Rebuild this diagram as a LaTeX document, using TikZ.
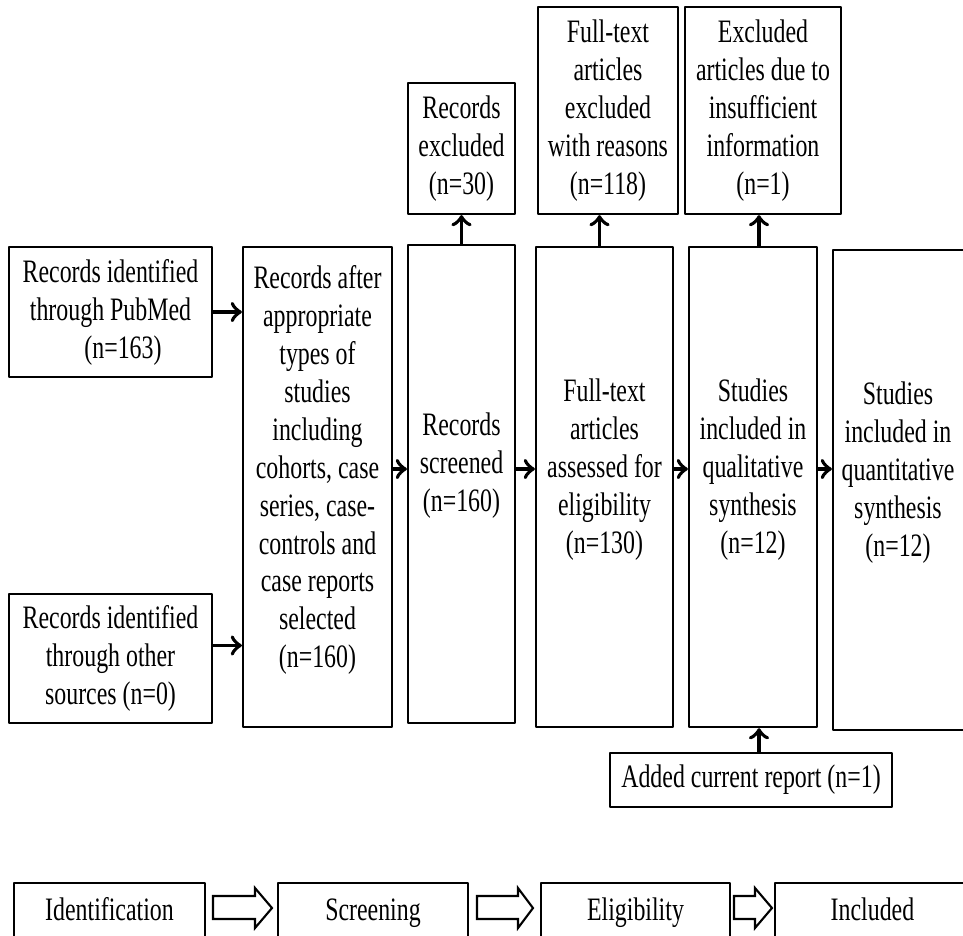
\documentclass[tikz,border=0pt]{standalone}
\usepackage{fontspec}
\setmainfont{Liberation Serif}[FakeStretch=0.73]

\tikzset{
  box/.style={draw, line width=0.6pt, inner sep=0pt, align=center},
  stage/.style={box, minimum height=0.60cm, text height=6.6pt, text depth=2.2pt},
  txt/.style={align=center, inner sep=0pt},
  link/.style={line width=1.1pt, ->},
  hollow/.style={draw, line width=0.6pt, line join=miter}
}

\begin{document}
\begin{tikzpicture}[x=0.01cm, y=-0.01cm, line cap=round, line join=round,
    font=\fontsize{9.3}{10.8}\selectfont]
  \useasboundingbox (0,0) rectangle (963,935);
  \clip (0,0) rectangle (963,935);
  % sources
  \node[box, minimum width=2.03cm, minimum height=1.30cm] (pub) at (110.5,312) {Records identified\\through PubMed\\\hspace{0.25cm}(n=163)};
  \node[box, minimum width=2.03cm, minimum height=1.29cm] (oth) at (110.5,658.5) {Records identified\\through other\\sources (n=0)};
  % main column boxes
  \node[box, minimum width=1.49cm, minimum height=4.80cm] (aft) at (317.5,487) {};
  \node[box, minimum width=1.07cm, minimum height=4.78cm] (scr) at (461.5,484) {};
  \node[box, minimum width=1.37cm, minimum height=4.80cm] (fta) at (604.5,487) {};
  \node[box, minimum width=1.28cm, minimum height=4.80cm] (qual) at (753,487) {};
  \node[box, minimum width=1.37cm, minimum height=4.80cm] (quan) at (901.5,490) {};
  \node[txt] (aft-t) at (317.5,470) {Records after\\appropriate\\types of\\studies\\including\\cohorts, case\\series, case-\\controls and\\case reports\\selected\\(n=160)};
  \node[txt] (scr-t) at (461.5,466) {Records\\screened\\(n=160)};
  \node[txt] (fta-t) at (604.5,470) {Full-text\\articles\\assessed for\\eligibility\\(n=130)};
  \node[txt] (qual-t) at (753,470) {Studies\\included in\\qualitative\\synthesis\\(n=12)};
  \node[txt] (quan-t) at (898,473) {Studies\\included in\\quantitative\\synthesis\\(n=12)};
  % exclusions
  \node[box, minimum width=1.07cm, minimum height=1.31cm] (rex) at (461.5,148.5) {Records\\excluded\\(n=30)};
  \node[box, minimum width=1.40cm, minimum height=2.07cm] (ftx) at (608,110.5) {Full-text\\articles\\excluded\\with reasons\\(n=118)};
  \node[box, minimum width=1.56cm, minimum height=2.07cm] (ins) at (763,110.5) {Excluded\\articles due to\\insufficient\\information\\(n=1)};
  \node[box, minimum width=2.82cm, minimum height=0.54cm] (add) at (751,780) {Added current report (n=1)};
  % stages
  \node[stage, minimum width=1.91cm] (idf) at (109.5,913) {Identification};
  \node[stage, minimum width=1.90cm] (scn) at (373,913) {Screening};
  \node[stage, minimum width=1.89cm] (elg) at (635.5,913) {Eligibility};
  \node[stage, minimum width=1.95cm] (inc) at (872.5,913) {Included};

  \coordinate (mid) at (0,469);
  \draw[link] (pub.east) -- (pub.east -| aft.west);
  \draw[link] ([yshift=0.13cm]oth.east) -- ([yshift=0.13cm]oth.east -| aft.west);
  \draw[link] (aft.east |- mid) -- (scr.west |- mid);
  \draw[link] (scr.east |- mid) -- (fta.west |- mid);
  \draw[link] (fta.east |- mid) -- (qual.west |- mid);
  \draw[link] (qual.east |- mid) -- (quan.west |- mid);
  \draw[link] (scr.north) -- (rex.south);
  \draw[link] ([xshift=-0.05cm]fta.north) -- ([xshift=-0.05cm]fta.north |- ftx.south);
  \draw[link] ([xshift=0.06cm]qual.north) -- ([xshift=0.06cm]qual.north |- ins.south);
  \draw[link] ([xshift=0.08cm]add.north) -- ([xshift=0.08cm]add.north |- qual.south);
  % hollow arrows between stages
  \foreach \a/\h/\b in {213/255/272, 477/518/533, 734/755/772} {
    \draw[hollow] (\a,896) -- (\h,896) -- (\h,888) -- (\b,908) -- (\h,928) -- (\h,919) -- (\a,919) -- cycle;
  }
\end{tikzpicture}
\end{document}
